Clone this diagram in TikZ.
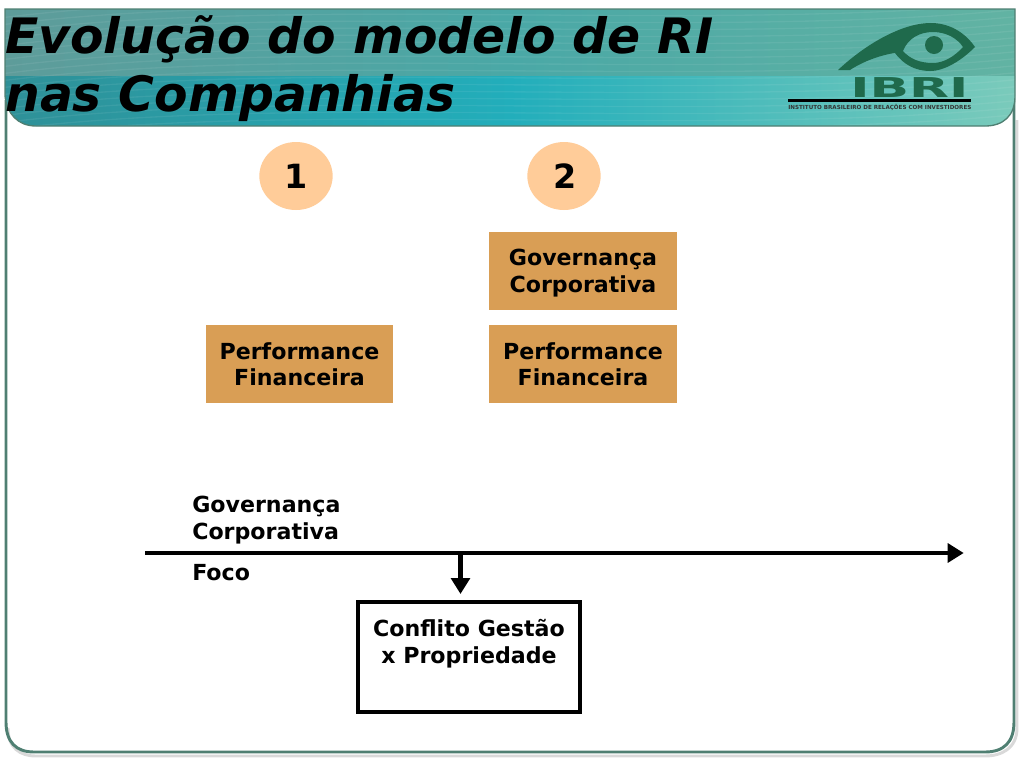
\documentclass[tikz,border=0pt]{standalone}
\usepackage{fontspec}
\setmainfont{DejaVu Sans}
\usetikzlibrary{arrows.meta,shapes.geometric}
\definecolor{frameg}{HTML}{4F7F72}
\definecolor{boxo}{HTML}{D99E55}
\definecolor{peach}{HTML}{FFCC99}
\definecolor{logog}{HTML}{1F6A4C}
\definecolor{tl}{HTML}{5E9C9A}
\definecolor{tm}{HTML}{4AA8A6}
\definecolor{tr}{HTML}{62B3A3}
\definecolor{bl}{HTML}{2F9097}
\definecolor{bm}{HTML}{22AEBB}
\definecolor{br}{HTML}{7CCBBB}
\tikzset{
 orange box/.style={fill=boxo,minimum width=140.5bp,minimum height=58.5bp,inner sep=0pt,align=center,font=\fontsize{16.6bp}{20bp}\selectfont\bfseries,text depth=0pt},
 num/.style={ellipse,fill=peach,inner sep=0pt,minimum width=55bp,minimum height=51bp,font=\fontsize{25bp}{28bp}\selectfont\bfseries},
 lab/.style={anchor=west,inner sep=0pt,align=left,font=\fontsize{16.6bp}{20bp}\selectfont\bfseries},
 ttl/.style={anchor=west,inner sep=0pt,font=\fontsize{36.6bp}{40bp}\selectfont\bfseries\itshape},
 thick arrow/.style={line width=3.4bp,-{Triangle[length=12bp,width=14bp]}}
}
\begin{document}
\begin{tikzpicture}[x=0.75bp,y=-0.75bp]
\useasboundingbox (0,0) rectangle (1023,766);
% frame shadow and outline
\draw[line width=2.2bp,black!15] (8,728) .. controls (8,748) and (20,756) .. (36,756) -- (985,756) .. controls (1002,756) and (1017,748) .. (1017,728) -- (1017,120);
\draw[line width=2.2bp,frameg] (6,100) -- (6,722) .. controls (6,742) and (16,752) .. (34,752) -- (985,752) .. controls (1004,752) and (1014,742) .. (1014,722) -- (1014,100);
% header
\begin{scope}
\clip (5,9) -- (1015,9) -- (1015,96) .. controls (1015,116) and (1003,126) .. (985,126) -- (36,126) .. controls (18,126) and (7,114) .. (5,96) -- cycle;
\shade[left color=tl,right color=tr,middle color=tm] (0,0) rectangle (1023,80);
\shade[left color=bl,right color=br,middle color=bm] (0,76) rectangle (1023,130);
\foreach \i in {0,7,...,126}{
 \draw[white,opacity=.07,line width=1bp] (0,\i+18) .. controls (300,\i-20) and (700,\i+20) .. (1023,\i-12);
}
\end{scope}
\draw[line width=1bp,frameg] (5,9) -- (1015,9) -- (1015,96) .. controls (1015,116) and (1003,126) .. (985,126) -- (36,126) .. controls (18,126) and (7,114) .. (5,96) -- cycle;
% logo
\fill[logog,even odd rule] (838,70) .. controls (868,42) and (905,22) .. (933,23) .. controls (952,24) and (966,34) .. (975,47) .. controls (962,60) and (945,71) .. (930,71) .. controls (915,71) and (903,64) .. (895,53) .. controls (880,55) and (862,62) .. (850,70) -- cycle
 (903,51) .. controls (908,38) and (920,32) .. (933,32) .. controls (946,32) and (957,38) .. (963,47) .. controls (955,56) and (944,63) .. (933,63) .. controls (920,63) and (910,59) .. (903,51) -- cycle;
\fill[logog] (934,45) circle[radius=9];
\node[inner sep=0pt,font=\fontsize{20.5bp}{21bp}\selectfont\bfseries,text=logog,anchor=east,xscale=1.9] (ibri) at (969,88) {IBRI};
\fill[black] (788,99) rectangle (971,102);
\node[inner sep=0pt,anchor=west,font=\fontsize{4.2bp}{5bp}\selectfont\bfseries,text=black!80] (inst) at (788,107) {INSTITUTO BRASILEIRO DE RELAÇÕES COM INVESTIDORES};
% title
\node[ttl] (t1) at (5,39) {Evolução do modelo de RI};
\node[ttl] (t2) at (5,98) {nas Companhias};
% numbers
\node[num] (n1) at (296,176) {1};
\node[num] (n2) at (564,176) {\kern1.5bp 2};
% boxes
\node[orange box] (gc) at (583,271) {Governança\\Corporativa};
\node[orange box] (pf2) at (583,364) {Performance\\Financeira};
\node[orange box] (pf1) at (299.5,364) {Performance\\Financeira};
% timeline
\coordinate (ts) at (145,553);
\node[inner sep=0pt,minimum size=0pt] (te) at (964,553) {};
\draw[thick arrow] (ts) -- (te);
\node[lab] (lgc) at (192,520) {Governança\\Corporativa};
\node[lab] (lf) at (192,573) {Foco};
\node[draw,line width=3.4bp,minimum width=166.5bp,minimum height=82.5bp,inner sep=0pt] (cf) at (469,657) {};
\node[inner sep=0pt,align=center,font=\fontsize{16.6bp}{20bp}\selectfont\bfseries] (cft) at (469,644) {Conflito Gestão\\x Propriedade};
\coordinate (tap) at (460.5,553);
\coordinate (tae) at (460.5,594);
\draw[thick arrow] (tap) -- (tae);
\end{tikzpicture}
\end{document}
